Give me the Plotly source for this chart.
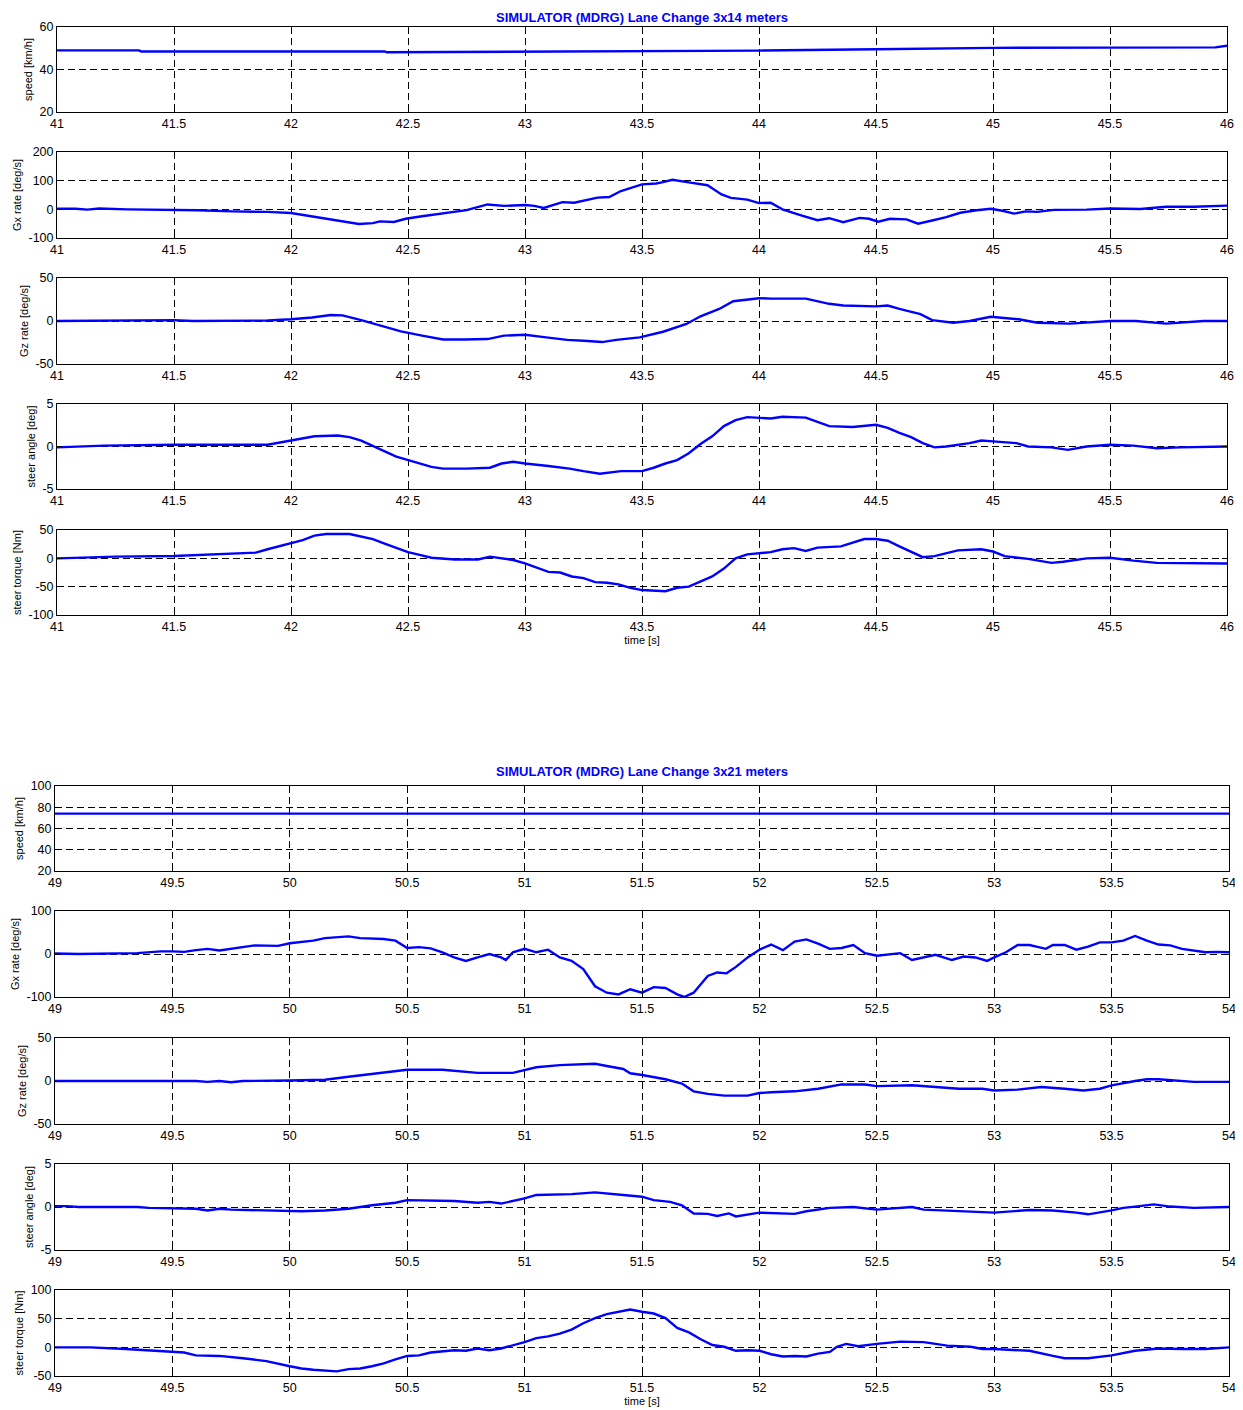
import plotly.graph_objects as go

# The page body has an 8px default margin; the figure is sized so that the
# photographed 1243x1410 window shows the whole chart.
PAGE_W, PAGE_H = 1243, 1410
OFF = 8
W, H = PAGE_W - OFF, PAGE_H - OFF

# ---------------- data: test 1 (3x14 m) ----------------
t_spd1 = [41.0, 41.35, 41.36, 42.0, 42.4, 42.41, 43.0, 43.5, 44.0, 44.5, 45.0, 45.5, 45.95, 46.0]
spd1 = [49.0, 49.0, 48.5, 48.5, 48.5, 48.1, 48.3, 48.8, 48.9, 49.5, 50.2, 50.3, 50.4, 51.2]

t_gx1 = [41.0, 41.08, 41.13, 41.18, 41.3, 41.5, 41.6, 41.75, 41.9, 42.0, 42.08, 42.18, 42.29, 42.35,
         42.38, 42.44, 42.49, 42.56, 42.65, 42.75, 42.84, 42.91, 43.0, 43.04, 43.08, 43.16, 43.21,
         43.31, 43.36, 43.41, 43.5, 43.56, 43.59, 43.63, 43.7, 43.78, 43.84, 43.88, 43.95, 44.0,
         44.05, 44.1, 44.18, 44.25, 44.3, 44.36, 44.43, 44.47, 44.51, 44.56, 44.63, 44.68, 44.74,
         44.8, 44.86, 44.93, 44.99, 45.04, 45.09, 45.14, 45.19, 45.26, 45.4, 45.5, 45.63, 45.74,
         45.86, 45.94, 46.0]
gx1 = [2, 2, -1, 3, 0, -1, -3, -7, -9, -13, -24, -38, -51, -48,
       -42, -44, -33, -24, -13, -3, 17, 12, 15, 12, 5, 25, 23,
       41, 43, 64, 87, 90, 95, 103, 94, 84, 52, 40, 34, 22,
       23, 0, -21, -38, -31, -45, -30, -33, -43, -33, -35, -50, -39,
       -27, -12, -3, 2, -5, -15, -7, -9, -2, -1, 3, 1, 9,
       9, 12, 13]

t_gz1 = [41.0, 41.3, 41.5, 41.58, 41.9, 42.0, 42.09, 42.17, 42.22, 42.3, 42.38, 42.47, 42.56, 42.65,
         42.74, 42.84, 42.91, 43.0, 43.09, 43.18, 43.25, 43.33, 43.39, 43.49, 43.59, 43.69, 43.75,
         43.83, 43.89, 44.0, 44.05, 44.2, 44.3, 44.36, 44.5, 44.55, 44.6, 44.69, 44.74, 44.83, 44.9,
         44.99, 45.11, 45.19, 45.33, 45.5, 45.61, 45.74, 45.9, 46.0]
gz1 = [0, 1, 1, 0, 0.5, 2, 4, 7, 6.5, 1, -5.5, -12, -17, -21.5,
       -21.5, -21, -17, -16, -19, -22, -23, -24.5, -22, -19, -12.5, -3.5, 5.5,
       14, 23, 26.5, 26, 26, 20, 18, 17, 18, 14, 8, 1, -2, 0,
       5, 2, -2, -3, 0, 0, -3, 0, 0]

t_sa1 = [41.0, 41.2, 41.5, 41.9, 42.0, 42.1, 42.2, 42.25, 42.3, 42.35, 42.41, 42.45, 42.5, 42.55,
         42.6, 42.65, 42.75, 42.85, 42.9, 42.95, 43.0, 43.1, 43.19, 43.25, 43.32, 43.41, 43.45, 43.5,
         43.55, 43.6, 43.65, 43.7, 43.75, 43.8, 43.85, 43.9, 43.95, 44.0, 44.05, 44.1, 44.2, 44.25,
         44.3, 44.4, 44.5, 44.55, 44.6, 44.65, 44.7, 44.75, 44.8, 44.9, 44.95, 45.0, 45.1, 45.15,
         45.25, 45.32, 45.4, 45.5, 45.6, 45.7, 45.8, 46.0]
sa1 = [-0.1, 0.1, 0.2, 0.2, 0.7, 1.2, 1.3, 1.1, 0.7, 0.1, -0.7, -1.2, -1.6, -2.0,
       -2.4, -2.6, -2.6, -2.5, -2.0, -1.8, -2.0, -2.3, -2.6, -2.9, -3.2, -2.9, -2.9, -2.9,
       -2.5, -2.0, -1.6, -0.8, 0.3, 1.2, 2.4, 3.1, 3.45, 3.4, 3.3, 3.5, 3.4, 2.9,
       2.4, 2.3, 2.55, 2.2, 1.6, 1.1, 0.4, -0.1, 0.0, 0.4, 0.7, 0.6, 0.4, 0.0,
       -0.1, -0.4, 0.0, 0.2, 0.1, -0.2, -0.1, 0.0]

t_st1 = [41.0, 41.25, 41.5, 41.7, 41.85, 41.9, 42.0, 42.05, 42.1, 42.15, 42.25, 42.3, 42.35, 42.4,
         42.45, 42.5, 42.55, 42.6, 42.7, 42.8, 42.85, 42.9, 42.95, 43.0, 43.05, 43.1, 43.15, 43.2,
         43.25, 43.3, 43.35, 43.4, 43.45, 43.5, 43.6, 43.65, 43.7, 43.75, 43.8, 43.85, 43.9, 43.95,
         44.0, 44.05, 44.1, 44.15, 44.2, 44.25, 44.35, 44.45, 44.5, 44.55, 44.6, 44.7, 44.75, 44.85,
         44.95, 45.0, 45.05, 45.15, 45.25, 45.3, 45.4, 45.5, 45.6, 45.7, 46.0]
st1 = [0, 3, 4, 7, 10, 16, 26, 32, 40, 43, 43, 39, 34, 26,
       18, 11, 6, 1, -2, -2, 3, 0, -3, -9, -16, -24, -25, -32,
       -35, -42, -43, -46, -52, -56, -58, -52, -50, -41, -32, -18, 0, 7,
       9, 11, 16, 18, 13, 19, 21, 34, 34, 31, 21, 2, 4, 14,
       16, 12, 4, -1, -8, -6, 0, 1, -4, -8, -9]

# ---------------- data: test 2 (3x21 m) ----------------
t_spd2 = [49.0, 50.5, 50.55, 50.7, 51.6, 51.62, 53.5, 53.52, 54.0]
spd2 = [74.0, 74.0, 73.4, 73.7, 73.7, 73.5, 73.5, 74.0, 74.0]

t_gx2 = [49.0, 49.1, 49.35, 49.45, 49.5, 49.55, 49.6, 49.65, 49.7, 49.75, 49.85, 49.95, 50.0, 50.1,
         50.15, 50.25, 50.3, 50.4, 50.45, 50.5, 50.55, 50.6, 50.65, 50.7, 50.75, 50.8, 50.85, 50.9,
         50.92, 50.95, 51.0, 51.05, 51.1, 51.15, 51.2, 51.25, 51.3, 51.35, 51.4, 51.45, 51.5, 51.55,
         51.6, 51.65, 51.68, 51.72, 51.78, 51.82, 51.86, 51.9, 51.95, 52.0, 52.05, 52.1, 52.15, 52.2,
         52.25, 52.3, 52.35, 52.4, 52.45, 52.5, 52.6, 52.65, 52.75, 52.82, 52.87, 52.92, 52.97, 53.0,
         53.05, 53.1, 53.15, 53.22, 53.25, 53.3, 53.35, 53.4, 53.45, 53.5, 53.55, 53.6, 53.65, 53.7,
         53.75, 53.8, 53.85, 53.9, 53.95, 54.0]
gx2 = [1, 0, 2, 6, 6, 5, 9, 12, 8, 12, 20, 19, 25, 31,
       37, 41, 37, 35, 31, 14, 16, 13, 4, -8, -16, -8, 0, -8,
       -14, 4, 12, 4, 10, -8, -16, -35, -75, -90, -94, -82, -90, -77,
       -79, -94, -100, -90, -51, -43, -45, -30, -8, 10, 22, 9, 29, 34,
       24, 12, 14, 21, 2, -4, 2, -14, -2, -14, -6, -8, -16, -8,
       4, 21, 21, 12, 21, 21, 10, 17, 27, 27, 31, 42, 31, 22,
       20, 12, 8, 4, 5, 4]

t_gz2 = [49.0, 49.6, 49.65, 49.7, 49.75, 49.8, 50.0, 50.15, 50.25, 50.35, 50.45, 50.5, 50.65, 50.75,
         50.8, 50.95, 51.0, 51.05, 51.15, 51.25, 51.3, 51.35, 51.42, 51.45, 51.5, 51.6, 51.67, 51.72,
         51.78, 51.85, 51.95, 52.0, 52.05, 52.15, 52.25, 52.35, 52.45, 52.5, 52.65, 52.75, 52.85, 52.95,
         53.0, 53.1, 53.2, 53.3, 53.38, 53.45, 53.5, 53.6, 53.65, 53.7, 53.8, 53.85, 54.0]
gz2 = [0, 0, -1, 0, -1.5, 0, 0.5, 1.5, 5, 8, 11, 13, 13, 11,
       9.5, 9.5, 13, 16, 18.5, 19.5, 20, 17.5, 14, 9, 7, 2, -3, -12,
       -15, -17, -17, -14, -13, -12, -9, -4, -4, -6, -5, -7, -9, -9,
       -11, -10, -7, -9, -11, -9, -5, 0, 2, 2, 0, -1, -1]

t_sa2 = [49.0, 49.05, 49.1, 49.35, 49.4, 49.6, 49.65, 49.7, 49.75, 49.9, 50.0, 50.05, 50.15, 50.25,
         50.35, 50.45, 50.5, 50.7, 50.8, 50.85, 50.9, 50.95, 51.0, 51.05, 51.15, 51.2, 51.3, 51.35,
         51.42, 51.5, 51.55, 51.62, 51.67, 51.72, 51.78, 51.82, 51.87, 51.9, 51.95, 52.0, 52.15, 52.2,
         52.3, 52.4, 52.5, 52.6, 52.65, 52.7, 52.8, 52.9, 53.0, 53.15, 53.25, 53.35, 53.4, 53.5,
         53.55, 53.6, 53.68, 53.75, 53.85, 54.0]
sa2 = [0.1, 0.1, 0.0, 0.0, -0.1, -0.2, -0.4, -0.2, -0.3, -0.4, -0.4, -0.5, -0.4, -0.2,
       0.2, 0.5, 0.8, 0.7, 0.5, 0.6, 0.4, 0.7, 1.0, 1.4, 1.45, 1.5, 1.7, 1.6,
       1.4, 1.2, 0.8, 0.6, 0.2, -0.75, -0.8, -1.05, -0.75, -1.1, -0.85, -0.65, -0.8, -0.5,
       -0.1, 0.0, -0.3, -0.15, 0.0, -0.3, -0.4, -0.55, -0.65, -0.35, -0.4, -0.65, -0.85, -0.4,
       -0.1, 0.05, 0.3, 0.05, -0.1, 0.0]

t_st2 = [49.0, 49.15, 49.3, 49.4, 49.5, 49.55, 49.6, 49.7, 49.8, 49.9, 50.0, 50.05, 50.1, 50.15,
         50.2, 50.25, 50.3, 50.35, 50.4, 50.45, 50.5, 50.55, 50.6, 50.7, 50.75, 50.8, 50.85, 50.9,
         51.0, 51.05, 51.1, 51.15, 51.2, 51.25, 51.3, 51.35, 51.4, 51.45, 51.5, 51.55, 51.6, 51.65,
         51.7, 51.75, 51.8, 51.85, 51.9, 51.95, 52.0, 52.05, 52.1, 52.15, 52.2, 52.25, 52.3, 52.33,
         52.37, 52.42, 52.5, 52.6, 52.7, 52.8, 52.9, 52.95, 53.0, 53.15, 53.25, 53.3, 53.4, 53.5,
         53.6, 53.7, 53.8, 53.9, 54.0]
st2 = [0, 0, -3, -5, -8, -9, -14, -15, -19, -24, -33, -37, -39, -40,
       -42, -38, -37, -33, -28, -21, -15, -14, -9, -5, -6, -2, -5, -2,
       9, 16, 19, 24, 31, 42, 51, 58, 62, 66, 62, 59, 51, 34,
       26, 14, 4, 1, -6, -5, -6, -12, -16, -15, -16, -11, -8, 1,
       6, 2, 6, 10, 9, 3, 1, -3, -3, -6, -15, -19, -19, -14,
       -6, -2, -3, -3, 0]

# ---------------- tick labels / titles ----------------
xticks1 = [41, 41.5, 42, 42.5, 43, 43.5, 44, 44.5, 45, 45.5, 46]
xticks2 = [49, 49.5, 50, 50.5, 51, 51.5, 52, 52.5, 53, 53.5, 54]
title1 = "SIMULATOR (MDRG) Lane Change 3x14 meters"
title2 = "SIMULATOR (MDRG) Lane Change 3x21 meters"
ylabels = ["speed [km/h]", "Gx rate [deg/s]", "Gz rate [deg/s]", "steer angle [deg]", "steer torque [Nm]"]
xlabel = "time [s]"

# panel definitions: (t, v, yrange, yticks, ylabel, pixel top, pixel bottom, group)
panels = [
    (t_spd1, spd1, [20, 60], [20, 40, 60], ylabels[0], 27, 112, 1),
    (t_gx1, gx1, [-100, 200], [-100, 0, 100, 200], ylabels[1], 152, 238, 1),
    (t_gz1, gz1, [-50, 50], [-50, 0, 50], ylabels[2], 278, 364, 1),
    (t_sa1, sa1, [-5, 5], [-5, 0, 5], ylabels[3], 404, 489, 1),
    (t_st1, st1, [-100, 50], [-100, -50, 0, 50], ylabels[4], 530, 615, 1),
    (t_spd2, spd2, [20, 100], [20, 40, 60, 80, 100], ylabels[0], 786, 871, 2),
    (t_gx2, gx2, [-100, 100], [-100, 0, 100], ylabels[1], 911, 997, 2),
    (t_gz2, gz2, [-50, 50], [-50, 0, 50], ylabels[2], 1038, 1124, 2),
    (t_sa2, sa2, [-5, 5], [-5, 0, 5], ylabels[3], 1164, 1250, 2),
    (t_st2, st2, [-50, 100], [-50, 0, 50, 100], ylabels[4], 1290, 1376, 2),
]

FONT = "Liberation Sans, Arial, sans-serif"


def fx(px):
    return (px - OFF) / W


def fy(py):
    return 1 - (py - OFF) / H


xdom = {1: [fx(57), fx(1227)], 2: [fx(55), fx(1229)]}
xrng = {1: [41, 46], 2: [49, 54]}
xtk = {1: xticks1, 2: xticks2}


def fmt(v):
    return ("%g" % v)


fig = go.Figure()
layout = dict(
    template="none",
    width=W, height=H, margin=dict(l=0, r=0, t=0, b=0, pad=0),
    paper_bgcolor="white", plot_bgcolor="white", showlegend=False,
    font=dict(family=FONT, color="black"),
)

common = dict(
    automargin=False,
    showgrid=True, gridcolor="black", griddash="7px,4px", gridwidth=1,
    showline=True, linecolor="black", linewidth=1, mirror="allticks",
    ticks="inside", ticklen=5, tickcolor="black", zeroline=False,
    tickfont=dict(family=FONT, size=12.5, color="black"),
)

for i, (t, v, yr, ytk, ylab, ptop, pbot, g) in enumerate(panels, start=1):
    assert len(t) == len(v), (i, len(t), len(v))
    fig.add_trace(go.Scatter(
        x=t, y=v, mode="lines", line=dict(color="rgb(0,0,255)", width=2.4),
        xaxis="x" if i == 1 else f"x{i}", yaxis="y" if i == 1 else f"y{i}",
        hoverinfo="skip",
    ))
    xa = dict(common, domain=xdom[g], range=xrng[g], anchor=f"y{i}" if i > 1 else "y",
              tickmode="array", tickvals=xtk[g], ticktext=[fmt(x) for x in xtk[g]])
    if i in (5, 10):
        xa["title"] = dict(text=xlabel, font=dict(family=FONT, size=11, color="black"), standoff=2)
    ya = dict(common, domain=[fy(pbot), fy(ptop)], range=yr,
              anchor=f"x{i}" if i > 1 else "x",
              tickmode="array", tickvals=ytk, ticktext=[fmt(y) for y in ytk],
              title=dict(text=ylab, font=dict(family=FONT, size=11, color="black"), standoff=4))
    layout["xaxis" if i == 1 else f"xaxis{i}"] = xa
    layout["yaxis" if i == 1 else f"yaxis{i}"] = ya

annotations = [
    dict(text=f"<b>{title1}</b>", x=fx((57 + 1227) / 2), y=1.0, xref="paper", yref="paper",
         showarrow=False, xanchor="center", yanchor="top",
         font=dict(family=FONT, size=13, color="rgb(0,0,255)")),
    dict(text=f"<b>{title2}</b>", x=fx((55 + 1229) / 2), y=fy(772), xref="paper", yref="paper",
         showarrow=False, xanchor="center", yanchor="middle",
         font=dict(family=FONT, size=13, color="rgb(0,0,255)")),
]
layout["annotations"] = annotations

fig.update_layout(**layout)
fig.write_html("out.html")
